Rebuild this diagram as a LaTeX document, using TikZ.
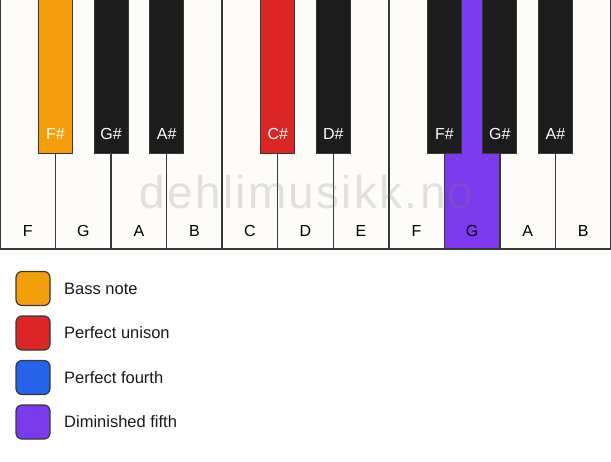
\documentclass[tikz,border=0pt]{standalone}
\usepackage{fontspec}
\setmainfont{Liberation Sans}
\usetikzlibrary{calc}
\definecolor{keywhite}{HTML}{FDFCF9}
\definecolor{keyblack}{HTML}{1C1C1C}
\definecolor{keyline}{HTML}{383838}
\definecolor{borange}{HTML}{F59E0B}
\definecolor{bred}{HTML}{DC2626}
\definecolor{bblue}{HTML}{2563EB}
\definecolor{bpurple}{HTML}{7C3AED}
\tikzset{
  whitekey/.style={rectangle, draw=keyline, line width=1.4pt, anchor=north west,
    minimum width=55.545pt, minimum height=251pt, inner sep=0pt, outer sep=0pt},
  blackkey/.style={rectangle, draw=keyline, line width=1pt, anchor=north,
    minimum width=34pt, minimum height=155pt, inner sep=0pt, outer sep=0pt},
  wlab/.style={anchor=base, inner sep=0pt, font=\fontsize{16}{16}\selectfont},
  blab/.style={anchor=base, inner sep=0pt, text=white, font=\fontsize{16}{16}\selectfont},
  legbox/.style={rectangle, rounded corners=6pt, draw=keyline, line width=1.2pt,
    minimum width=34pt, minimum height=34pt, inner sep=0pt},
  legtext/.style={anchor=west, inner sep=0pt, font=\fontsize{16.5}{16.5}\selectfont, text=black!90},
  watermark/.style={anchor=base, inner sep=0pt, text=black!50, text opacity=0.22,
    font=\fontsize{46}{46}\selectfont\addfontfeature{LetterSpace=5}}
}
\begin{document}
\begin{tikzpicture}[x=1pt,y=-1pt]
\useasboundingbox (0,0) rectangle (611,461);
\fill[white] (0,0) rectangle (611,461);
% white keys
\foreach \n/\c [count=\i from 0] in {F/keywhite,G/keywhite,A/keywhite,B/keywhite,C/keywhite,D/keywhite,E/keywhite,F/keywhite,G/bpurple,A/keywhite,B/keywhite}{
  \node[whitekey, fill=\c] (w\i) at ({\i*55.545},-2) {};
  \node[wlab] (wl\i) at ($(w\i.south)+(0,-12.5)$) {\n};
}
% watermark
\node[watermark] (wm) at (306.5,208) {dehlimusikk.no};
% black keys
\foreach \n/\b/\c [count=\j] in {F\#/1/borange,G\#/2/keyblack,A\#/3/keyblack,C\#/5/bred,D\#/6/keyblack,F\#/8/keyblack,G\#/9/keyblack,A\#/10/keyblack}{
  \node[blackkey, fill=\c] (b\j) at ({\b*55.545},-2) {};
  \node[blab] (bl\j) at ($(b\j.south)+(0,-14)$) {\n};
}
% legend
\foreach \c/\t [count=\i from 0] in {borange/Bass note,bred/Perfect unison,bblue/Perfect fourth,bpurple/Diminished fifth}{
  \node[legbox, fill=\c] (lb\i) at (33,{288.5+\i*44.5}) {};
  \node[legtext] (lt\i) at (64,{288.5+\i*44.5}) {\t};
}
\end{tikzpicture}
\end{document}
